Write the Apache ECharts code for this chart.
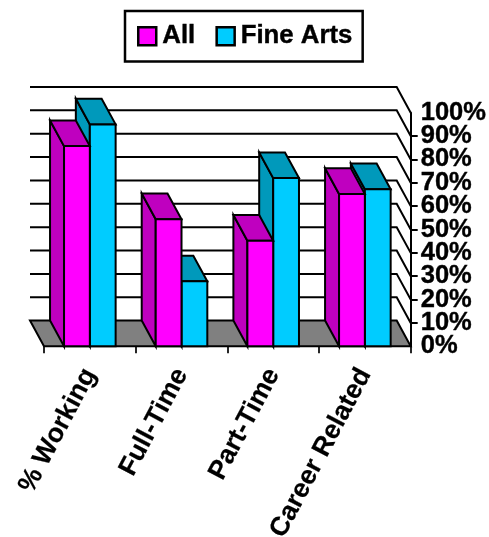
<!DOCTYPE html>
<html><head><meta charset="utf-8">
<style>html,body{margin:0;padding:0;background:#fff}#c{width:489px;height:537px}</style>
<script src="https://cdn.jsdelivr.net/npm/echarts@6/dist/echarts.min.js"></script>
</head><body><div id="c"></div>
<script>
const categories = ['% Working','Full-Time','Part-Time','Career Related'];
const allValues = [85.7,54.4,45.2,65.2];
const fineArtsValues = [95,27.8,72,67.2];
const yTicks = [0,10,20,30,40,50,60,70,80,90,100];
const FONT = '"Liberation Sans", Arial, sans-serif';
const DX = 14, DY = 25.7, BW = 25.8, LW = 2;

const chart = echarts.init(document.getElementById('c'), null, {renderer:'canvas'});

function poly(points, fill){
  return {type:'polygon', shape:{points}, style:{fill, stroke:'#000', lineWidth:LW, lineJoin:'miter'}};
}
function barRender(offset, front, dark){
  return function(params, api){
    const i = api.value(0), v = api.value(1);
    const p = api.coord([i, v]), b = api.coord([i, 0]);
    const x0 = p[0] + offset, x1 = x0 + BW, top = p[1], bot = b[1];
    return {type:'group', children:[
      poly([[x0-DX,top-DY],[x0,top],[x0,bot],[x0-DX,bot-DY]], dark),
      poly([[x0-DX,top-DY],[x1-DX,top-DY],[x1,top],[x0,top]], dark),
      poly([[x0,top],[x1,top],[x1,bot],[x0,bot]], front)
    ]};
  };
}
function wallRender(params, api){
  const v = api.value(0);
  const p = api.coord([0, v]);
  const cs = params.coordSys;
  const l = cs.x, r = cs.x + cs.width, y = p[1];
  if (v === 0) {
    return poly([[l-DX,y-DY],[r-DX,y-DY],[r,y],[l,y]], '#808080');
  }
  return {type:'polyline', shape:{points:[[l-DX,y-DY],[r-DX,y-DY],[r,y]]},
    style:{fill:null, stroke:'#000', lineWidth:LW}};
}
const boldText = {fontFamily:FONT,fontWeight:'bold',color:'#000',textBorderColor:'#000',textBorderWidth:0.4};
const yLabel = Object.assign({},boldText,{margin:10,formatter:'{value}%',fontSize:25.5,hideOverlap:false});
chart.setOption({
  animation:false,
  backgroundColor:'#fff',
  legend:{
    left:125, top:11, padding:[12,10,12,12], itemGap:20, itemWidth:18, itemHeight:18,
    borderColor:'#000', borderWidth:2.5, backgroundColor:'#fff',
    textStyle:Object.assign({},boldText,{fontSize:25.8,padding:[0,0,0,1]}),
    data:[
      {name:'All',icon:'rect',itemStyle:{color:'#ff00ff',borderColor:'#000',borderWidth:2.5}},
      {name:'Fine Arts',icon:'rect',itemStyle:{color:'#00ccff',borderColor:'#000',borderWidth:2.5}}
    ]
  },
  grid:{left:44,right:78.3,top:112.7,bottom:190.7,containLabel:false,outerBoundsMode:'none'},
  xAxis:{
    type:'category',data:categories,boundaryGap:true,
    axisLine:{show:false},
    axisTick:{show:true,alignWithLabel:false,length:7,lineStyle:{color:'#000',width:1.7}},
    axisLabel:Object.assign({},boldText,{textBorderWidth:0.2,rotate:62,margin:24,interval:0,fontSize:26.5,hideOverlap:false})
  },
  yAxis:[{
    type:'value',position:'right',min:0,max:100,interval:10,
    axisLine:{show:true,lineStyle:{color:'#000',width:2}},
    axisTick:{show:true,length:7,inside:false,lineStyle:{color:'#000',width:2}},
    splitLine:{show:false},
    axisLabel:Object.assign({},yLabel,{showMinLabel:false,showMaxLabel:false})
  },{
    type:'value',position:'right',min:0,max:100,interval:100,
    axisLine:{show:false},axisTick:{show:false},splitLine:{show:false},
    axisLabel:yLabel
  }],
  series:[
    {type:'custom',name:'wall',silent:true,z:1,clip:false,renderItem:wallRender,
     encode:{y:0},data:yTicks.map(v=>[v])},
    {type:'custom',name:'Fine Arts',z:2,clip:false,renderItem:barRender(0,'#00ccff','#0099bb'),
     encode:{x:0,y:1},data:fineArtsValues.map((v,i)=>[i,v])},
    {type:'custom',name:'All',z:3,clip:false,renderItem:barRender(-BW,'#ff00ff','#bf00bf'),
     encode:{x:0,y:1},data:allValues.map((v,i)=>[i,v])}
  ]
});
</script></body></html>
